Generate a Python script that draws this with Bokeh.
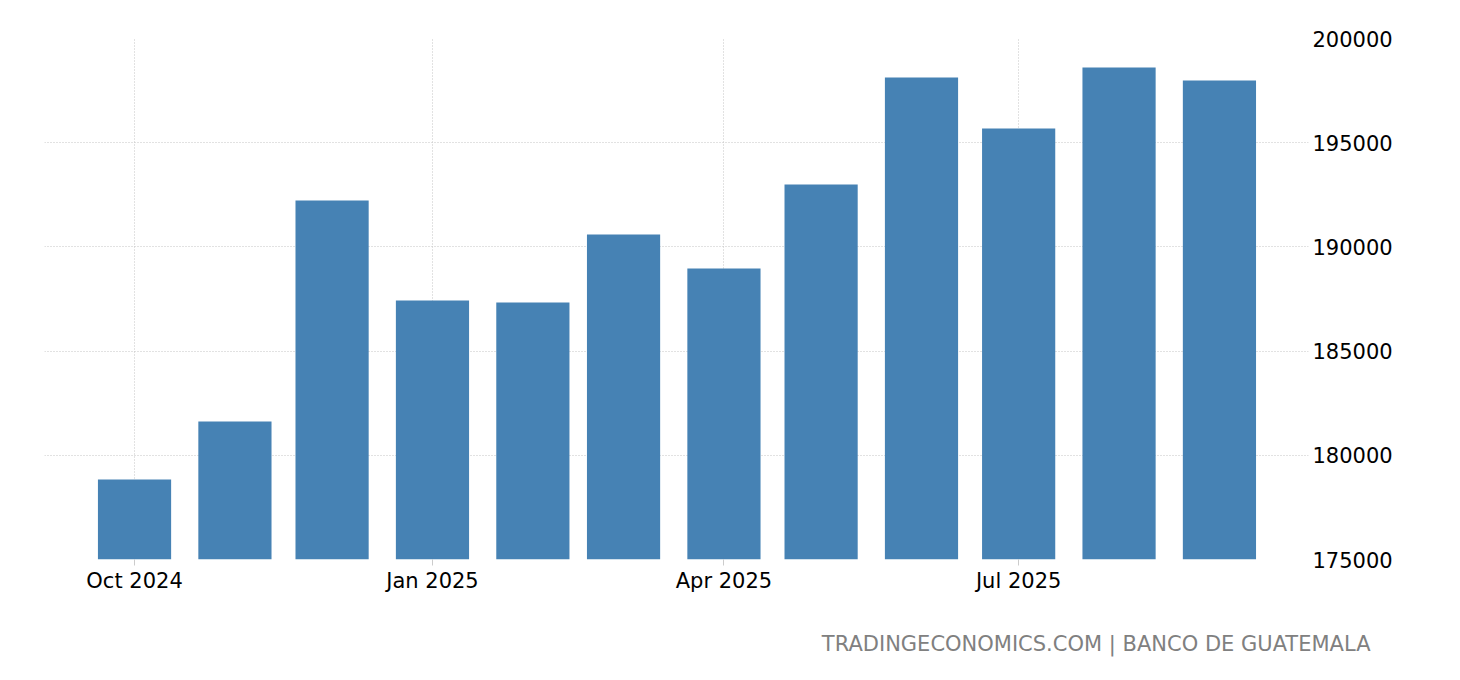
from datetime import datetime
from bokeh.plotting import figure
from bokeh.models import Range1d, FixedTicker, DatetimeTickFormatter, Title, NumeralTickFormatter
from bokeh.embed import file_html
from bokeh.resources import INLINE

months = ["2024-10-01", "2024-11-01", "2024-12-01", "2025-01-01", "2025-02-01", "2025-03-01",
          "2025-04-01", "2025-05-01", "2025-06-01", "2025-07-01", "2025-08-01", "2025-09-01"]
values = [178840, 181620, 192230, 187430, 187330, 190600,
          188960, 192990, 198130, 195680, 198610, 197980]
x_ticks = ["2024-10-01", "2025-01-01", "2025-04-01", "2025-07-01"]
y_ticks = [175000, 180000, 185000, 190000, 195000, 200000]
source_text = "TRADINGECONOMICS.COM | BANCO DE GUATEMALA"

DAY = 86400000.0
def ms(s):
    return (datetime.strptime(s, "%Y-%m-%d") - datetime(1970, 1, 1)).total_seconds() * 1000.0

xs = [ms(m) for m in months]

p = figure(width=1452, height=680, x_axis_type="datetime", y_axis_location="right",
           output_backend="svg", toolbar_location=None,
           min_border_left=44, min_border_top=38, min_border_right=144, min_border_bottom=121)
p.x_range = Range1d(ms("2024-10-01") - 27.8 * DAY, ms("2025-09-01") + 27.5 * DAY)
p.y_range = Range1d(175000, 200000)
p.outline_line_color = None

p.vbar(x=xs, top=values, bottom=175000, width=22.6 * DAY, color="#4682B4", line_color=None)

p.xaxis.ticker = FixedTicker(ticks=[ms(t) for t in x_ticks])
p.xaxis.formatter = DatetimeTickFormatter(months="%b %Y", days="%b %Y")
p.xaxis.axis_line_color = None
p.xaxis.major_tick_line_color = "#cccccc"
p.xaxis.major_tick_out = 6
p.xaxis.major_tick_in = 0
p.xaxis.minor_tick_line_color = None
p.xaxis.major_label_text_font = "DejaVu Sans"
p.xaxis.major_label_text_font_size = "21px"
p.xaxis.major_label_text_color = "#000000"
p.xaxis.major_label_standoff = 3
p.xaxis.axis_label = " "
p.xaxis.axis_label_text_font_size = "8px"
p.xaxis.axis_label_standoff = 0

p.yaxis.ticker = FixedTicker(ticks=y_ticks)
p.yaxis.formatter = NumeralTickFormatter(format="0")
p.yaxis.axis_line_color = None
p.yaxis.major_tick_line_color = None
p.yaxis.minor_tick_line_color = None
p.yaxis.major_label_text_font = "DejaVu Sans"
p.yaxis.major_label_text_font_size = "21px"
p.yaxis.major_label_text_color = "#000000"
p.yaxis.major_label_standoff = -2

for g in (p.xgrid, p.ygrid):
    g.grid_line_color = "#c4c4c4"
    g.grid_line_dash = "1 2"
    g.grid_line_width = 1
p.xgrid.ticker = FixedTicker(ticks=[ms(t) for t in x_ticks])
p.ygrid.ticker = FixedTicker(ticks=y_ticks)

t = Title(text=source_text, align="right", offset=-62, text_font="DejaVu Sans",
          text_font_size="21px", text_font_style="normal", text_color="#808080", standoff=45)
p.add_layout(t, "below")

open("out.html", "w").write(file_html(p, INLINE))
